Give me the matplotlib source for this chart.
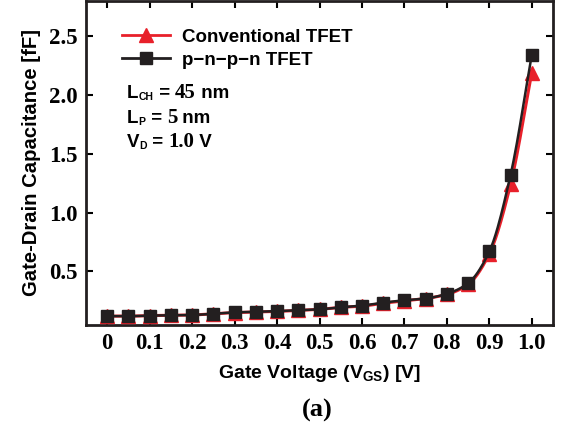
import matplotlib
matplotlib.use("Agg")
import matplotlib.pyplot as plt
import matplotlib.transforms as mtransforms
import numpy as np

vgs = [0.0, 0.05, 0.1, 0.15, 0.2, 0.25, 0.3, 0.35, 0.4, 0.45, 0.5,
       0.55, 0.6, 0.65, 0.7, 0.75, 0.8, 0.85, 0.9, 0.95, 1.0]
cgd_conv = [0.12, 0.12, 0.125, 0.127, 0.13, 0.14, 0.15, 0.155, 0.16, 0.17, 0.178,
            0.195, 0.205, 0.23, 0.25, 0.27, 0.305, 0.39, 0.65, 1.24, 2.19]
cgd_pnpn = [0.12, 0.12, 0.125, 0.127, 0.13, 0.14, 0.152, 0.157, 0.163, 0.17, 0.178,
            0.195, 0.21, 0.235, 0.255, 0.27, 0.31, 0.40, 0.67, 1.32, 2.34]
xticks = [0, 0.1, 0.2, 0.3, 0.4, 0.5, 0.6, 0.7, 0.8, 0.9, 1.0]
xticklabels = ["0", "0.1", "0.2", "0.3", "0.4", "0.5", "0.6", "0.7", "0.8", "0.9", "1.0"]
yticks = [0.5, 1.0, 1.5, 2.0, 2.5]
yticklabels = ["0.5", "1.0", "1.5", "2.0", "2.5"]


def pchip(x, y, n=400):
    """Smooth monotone cubic curve through the data points (for drawing the line)."""
    x = np.asarray(x, float)
    y = np.asarray(y, float)
    h = np.diff(x)
    d = np.diff(y) / h
    m = np.zeros_like(y)
    for k in range(1, len(x) - 1):
        if d[k - 1] * d[k] > 0:
            w1 = 2 * h[k] + h[k - 1]
            w2 = h[k] + 2 * h[k - 1]
            m[k] = (w1 + w2) / (w1 / d[k - 1] + w2 / d[k])
    m[0] = d[0]
    m[-1] = d[-1]
    xs = np.linspace(x[0], x[-1], n)
    idx = np.clip(np.searchsorted(x, xs) - 1, 0, len(x) - 2)
    t = (xs - x[idx]) / h[idx]
    h00 = 2 * t**3 - 3 * t**2 + 1
    h10 = t**3 - 2 * t**2 + t
    h01 = -2 * t**3 + 3 * t**2
    h11 = t**3 - t**2
    ys = h00 * y[idx] + h10 * h[idx] * m[idx] + h01 * y[idx + 1] + h11 * h[idx] * m[idx + 1]
    return xs, ys


plt.rcParams['mathtext.fontset'] = 'custom'
plt.rcParams['mathtext.rm'] = 'Liberation Serif:bold'
plt.rcParams['mathtext.sf'] = 'Liberation Sans:bold'
plt.rcParams['mathtext.it'] = 'Liberation Sans:bold'
plt.rcParams['mathtext.bf'] = 'Liberation Sans:bold'

RED = '#e8202a'
BLK = '#231f20'
sans = ['Liberation Sans', 'DejaVu Sans']
serif = ['Liberation Serif', 'DejaVu Serif']

fig = plt.figure(figsize=(5.71, 4.28), dpi=100)
ax = fig.add_axes([0.1506, 0.2407, 0.8179, 0.7573])

xs, ys = pchip(vgs, cgd_conv)
ax.plot(xs, ys, color=RED, lw=2.2, zorder=3)
ax.plot(vgs, cgd_conv, ls='none', marker='^', ms=9.5, mfc=RED, mec=RED, zorder=3)
xs, ys = pchip(vgs, cgd_pnpn)
ax.plot(xs, ys, color=BLK, lw=1.8, zorder=4)
ax.plot(vgs, cgd_pnpn, ls='none', marker='s', ms=8.5, mfc=BLK, mec=BLK, zorder=4)

# legend proxies
h1, = ax.plot([], [], color=RED, lw=2, marker='^', ms=9.5, mfc=RED, mec=RED)
h2, = ax.plot([], [], color=BLK, lw=2, marker='s', ms=8.5, mfc=BLK, mec=BLK)

ax.set_xlim(-0.05, 1.05)
ax.set_ylim(0.045, 2.8)
ax.set_xticks(xticks)
ax.set_xticklabels(xticklabels, fontfamily=serif, fontweight='bold', fontsize=16.5)
ax.set_yticks(yticks)
ax.set_yticklabels(yticklabels, fontfamily=serif, fontweight='bold', fontsize=16.5)
ax.tick_params(direction='in', length=5, width=1.5, top=True, right=True, pad=6)
for s in ax.spines.values():
    s.set_linewidth(2)
    s.set_color(BLK)

ax.set_xlabel(r'Gate Voltage $\mathsf{(V_{GS})}$ [V]', fontfamily=sans,
              fontweight='bold', fontsize=14, labelpad=6)
ax.set_ylabel('Gate-Drain Capacitance [fF]', fontfamily=sans,
              fontweight='bold', fontsize=14.6, labelpad=6)

leg = ax.legend([h1, h2], ['Conventional TFET', 'p\u2212n\u2212p\u2212n TFET'],
                loc='upper left', bbox_to_anchor=(0.077, 0.915), frameon=False,
                handlelength=2.56, handletextpad=0.64, borderaxespad=0, borderpad=0,
                labelspacing=0.33, prop={'family': sans, 'weight': 'bold', 'size': 13.5})

renderer = fig.canvas.get_renderer()
ax_w_px = ax.get_window_extent(renderer).width


def rich(x0, y0, parts):
    x = x0
    for txt, fam, size, dy in parts:
        tr = mtransforms.offset_copy(ax.transAxes, fig=fig, x=0, y=dy, units='points')
        t = ax.text(x, y0, txt, transform=tr, fontfamily=fam, fontweight='bold',
                    fontsize=size, va='baseline', ha='left', color='black')
        bb = t.get_window_extent(renderer)
        x += bb.width / ax_w_px


rich(0.088, 0.70, [('L', sans, 13.5, 0), ('CH', sans, 7.5, -1.5),
                   (' = ', sans, 13.5, 0), ('45', serif, 15, 0), (' nm', sans, 13.5, 0)])
rich(0.088, 0.623, [('L', sans, 13.5, 0), ('P', sans, 7.5, -1.5),
                    (' = ', sans, 13.5, 0), ('5', serif, 15, 0), (' nm', sans, 13.5, 0)])
rich(0.088, 0.549, [('V', sans, 13.5, 0), ('D', sans, 7.5, -1.5),
                    (' = ', sans, 13.5, 0), ('1.0', serif, 15, 0), (' V', sans, 13.5, 0)])

fig.text(0.555, 0.042, '(a)', fontfamily=serif, fontweight='bold', fontsize=19,
         ha='center', va='center')

fig.savefig('out.png', dpi=100)
